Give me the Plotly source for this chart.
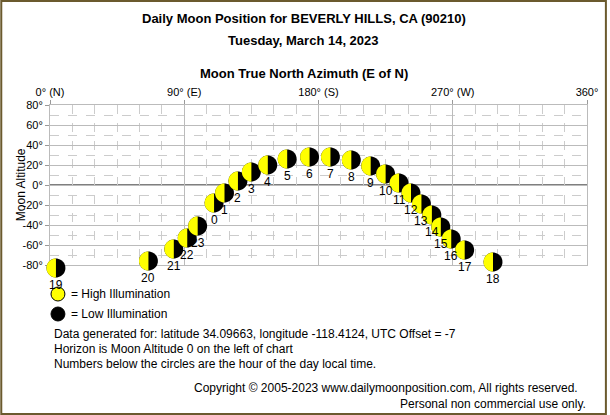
import numpy as np
import plotly.graph_objects as go

hours = [19,20,21,22,23,0,1,2,3,4,5,6,7,8,9,10,11,12,13,14,15,16,17,18]
azimuth = [4,66,83,92,99,110,117,126,135,146,159,174,188,202,215,225,234,242,249,256,262,269,278,297]
altitude = [-83,-76,-64,-53,-41,-18,-8,4,13,20,26,28,28,25,19,11,2,-8,-19,-30,-42,-54,-65,-77]
xtick_vals = [0,90,180,270,360]
xtick_text = ["0° (N)","90° (E)","180° (S)","270° (W)","360°"]
ytick_vals = list(range(-80,81,20))
ytick_text = [f"{v}°" for v in ytick_vals]

XR = [0, 360]
YR = [-80, 80]
FONT = "Liberation Sans"
fig = go.Figure()
fig.add_trace(go.Scatter(x=azimuth, y=altitude, mode="markers",
    marker=dict(size=1, opacity=0), hoverinfo="skip"))

def dx2p(a): return (a - XR[0]) / (XR[1] - XR[0])
def dy2p(h): return (h - YR[0]) / (YR[1] - YR[0])

rx, ry = 9.5/540, 9.5/160
shapes = []
def arc(cx, cy, t0, t1, n=25):
    th = np.linspace(t0, t1, n)
    pts = [(cx + rx*np.cos(t), cy + ry*np.sin(t)) for t in th]
    return "M " + " L ".join(f"{x:.5f},{y:.5f}" for x, y in pts) + " Z"

annotations = []
for a, h, hr in zip(azimuth, altitude, hours):
    cx, cy = dx2p(a), dy2p(h)
    shapes.append(dict(type="path", path=arc(cx, cy, 0, 2*np.pi, 40), xref="paper", yref="paper",
                       fillcolor="black", line=dict(width=0), layer="above"))
    shapes.append(dict(type="path", path=arc(cx, cy, np.pi/2, 3*np.pi/2), xref="paper", yref="paper",
                       fillcolor="#FFFF00", line=dict(width=0), layer="above"))
    annotations.append(dict(xref="paper", yref="paper", x=cx, y=cy, text=str(hr),
                            showarrow=False, yshift=-17, xanchor="center", yanchor="middle",
                            font=dict(family=FONT, size=12, color="black")))

shapes.append(dict(type="line", xref="x", yref="y", x0=0, x1=360, y0=0, y1=0,
                   line=dict(color="black", width=1.2), layer="below"))
shapes.append(dict(type="rect", xref="paper", yref="paper", x0=-49/540, x1=1+19/540,
                   y0=-149/160, y1=1+104/160, line=dict(color="#6B5A2E", width=2)))
def pcx(px): return (px-50)/540
def pcy(py): return (265-py)/160
shapes.append(dict(type="circle", xref="paper", yref="paper", x0=pcx(51), x1=pcx(65),
                   y0=pcy(301), y1=pcy(287), fillcolor="#FFFF00", line=dict(color="black", width=1)))
shapes.append(dict(type="circle", xref="paper", yref="paper", x0=pcx(51), x1=pcx(65),
                   y0=pcy(321), y1=pcy(307), fillcolor="black", line=dict(color="black", width=1)))

def txt(px, py, s, size=12, bold=False, anchor="left"):
    annotations.append(dict(xref="paper", yref="paper", x=pcx(px), y=pcy(py),
        text=f"<b>{s}</b>" if bold else s, showarrow=False, xanchor=anchor, yanchor="middle",
        font=dict(family=FONT, size=size, color="black")))

txt(305, 19, "Daily Moon Position for BEVERLY HILLS, CA (90210)", 13, True, "center")
txt(305, 40, "Tuesday, March 14, 2023", 13, True, "center")
txt(305, 74, "Moon True North Azimuth (E of N)", 13, True, "center")
txt(69, 294, "= High Illumination")
txt(69, 314, "= Low Illumination")
txt(52, 334, "Data generated for: latitude 34.09663, longitude -118.4124, UTC Offset = -7")
txt(52, 349, "Horizon is Moon Altitude 0 on the left of chart")
txt(52, 364, "Numbers below the circles are the hour of the day local time.")
txt(583, 388, "Copyright © 2005-2023 www.dailymoonposition.com, All rights reserved.", 12, False, "right")
txt(591, 404, "Personal non commercial use only.", 12, False, "right")
annotations.append(dict(xref="paper", yref="paper", x=pcx(12), y=0.5, text="Moon Altitude",
    textangle=-90, showarrow=False, font=dict(family=FONT, size=12, color="black")))

fig.update_layout(width=610, height=415, margin=dict(l=50, r=20, t=105, b=150),
    paper_bgcolor="white", plot_bgcolor="white", showlegend=False,
    shapes=shapes, annotations=annotations,
    font=dict(family=FONT, size=11, color="black"))
fig.update_xaxes(range=XR, side="top", tickvals=xtick_vals, ticktext=xtick_text,
    showgrid=True, gridcolor="#BBBBBB", gridwidth=1, zeroline=False,
    ticks="outside", ticklen=4, tickcolor="#999999",
    minor=dict(dtick=15, showgrid=True, gridcolor="#CCCCCC", griddash="dash"),
    showline=True, linecolor="#BBBBBB", mirror=True)
fig.update_yaxes(range=YR, tickvals=ytick_vals, ticktext=ytick_text,
    showgrid=True, gridcolor="#BBBBBB", zeroline=False,
    ticks="outside", ticklen=4, tickcolor="#999999",
    minor=dict(dtick=10, showgrid=True, gridcolor="#CCCCCC", griddash="dash"),
    showline=True, linecolor="#BBBBBB", mirror=True)
fig.write_html("out.html", config={"displayModeBar": False})
with open("out.html") as f:
    html = f.read()
html = html.replace("<head>", "<head><style>html,body{margin:0;padding:0;overflow:hidden;}</style>", 1)
with open("out.html", "w") as f:
    f.write(html)
